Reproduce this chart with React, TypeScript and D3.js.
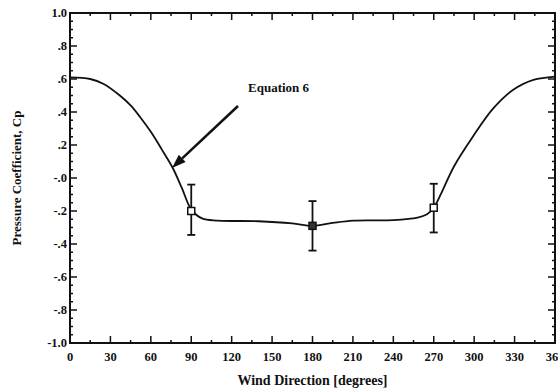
import React from "react";
import * as d3 from "d3";

// fitted curve (Equation 6)
const curveDeg = [0, 15, 25, 37, 45, 52, 60, 68, 76, 83, 90, 98, 110, 140, 165, 180, 195, 210, 240, 258, 265, 270, 276, 285, 299, 314, 329, 344, 360];
const curveCp = [0.61, 0.6, 0.57, 0.5, 0.44, 0.37, 0.28, 0.175, 0.065, -0.06, -0.19, -0.245, -0.258, -0.262, -0.275, -0.29, -0.272, -0.258, -0.255, -0.24, -0.22, -0.18, -0.085, 0.07, 0.25, 0.42, 0.535, 0.595, 0.615];

// measured points with error bars
const pointDeg = [90, 180, 270];
const pointCp = [-0.2, -0.29, -0.18];
const pointHi = [-0.04, -0.14, -0.035];
const pointLo = [-0.345, -0.44, -0.33];

const xTicks = [0, 30, 60, 90, 120, 150, 180, 210, 240, 270, 300, 330, 360];
const yTicks = [1, 0.8, 0.6, 0.4, 0.2, 0, -0.2, -0.4, -0.6, -0.8, -1];
const yTickLabels = ["1.0", ".8", ".6", ".4", ".2", "-.0", "-.2", "-.4", "-.6", "-.8", "-1.0"];

const W = 558;
const H = 391;
const m = { left: 70, right: 3, top: 13, bottom: 48 };
const font = "'Liberation Serif', 'DejaVu Serif', serif";

export default function App() {
  const x = d3.scaleLinear().domain([0, 360]).range([m.left, W - m.right]);
  const y = d3.scaleLinear().domain([-1, 1]).range([H - m.bottom, m.top]);
  const x0 = x(0), x1 = x(360), y0 = y(-1), y1 = y(1);

  const line = d3
    .line<number>()
    .x((d, i) => x(curveDeg[i]))
    .y((d) => y(d))
    .curve(d3.curveCatmullRom.alpha(0.5));

  const xMinor = d3.range(15, 360, 30);
  const yMinor = d3.range(-0.95, 1, 0.05).filter((v) => Math.abs(Math.round(v * 100) % 20) > 1e-6);

  // arrow pointing at the curve
  const ax0 = 238, ay0 = 106, ax1 = 172, ay1 = 168;
  const ang = Math.atan2(ay1 - ay0, ax1 - ax0);
  const hl = 14, hw = 5;
  const bx = ax1 - hl * Math.cos(ang), by = ay1 - hl * Math.sin(ang);
  const head = `M${ax1},${ay1} L${bx + hw * Math.sin(ang)},${by - hw * Math.cos(ang)} L${bx - hw * Math.sin(ang)},${by + hw * Math.cos(ang)} Z`;

  return (
    <svg width={W} height={H} style={{ position: "absolute", left: 0, top: 0, background: "#fff" }}>
      <g stroke="#111" strokeWidth={1.5}>
        {xTicks.map((t) => (
          <g key={"xt" + t}>
            <line x1={x(t)} x2={x(t)} y1={y0} y2={y0 - 7} />
            <line x1={x(t)} x2={x(t)} y1={y1} y2={y1 + 7} />
          </g>
        ))}
        {xMinor.map((t) => (
          <g key={"xm" + t}>
            <line x1={x(t)} x2={x(t)} y1={y0} y2={y0 - 3} />
            <line x1={x(t)} x2={x(t)} y1={y1} y2={y1 + 3} />
          </g>
        ))}
        {yTicks.map((t) => (
          <g key={"yt" + t}>
            <line x1={x0} x2={x0 + 7} y1={y(t)} y2={y(t)} />
            <line x1={x1} x2={x1 - 7} y1={y(t)} y2={y(t)} />
          </g>
        ))}
        {yMinor.map((t) => (
          <g key={"ym" + t.toFixed(2)}>
            <line x1={x0} x2={x0 + 3} y1={y(t)} y2={y(t)} />
            <line x1={x1} x2={x1 - 3} y1={y(t)} y2={y(t)} />
          </g>
        ))}
      </g>
      <rect x={x0} y={y1} width={x1 - x0} height={y0 - y1} fill="none" stroke="#111" strokeWidth={2} />

      <path d={line(curveCp) || ""} fill="none" stroke="#111" strokeWidth={1.8} />

      {pointDeg.map((d, i) => (
        <g key={"p" + d} stroke="#111" strokeWidth={1.8}>
          <line x1={x(d)} x2={x(d)} y1={y(pointHi[i])} y2={y(pointLo[i])} />
          <line x1={x(d) - 4} x2={x(d) + 4} y1={y(pointHi[i])} y2={y(pointHi[i])} />
          <line x1={x(d) - 4} x2={x(d) + 4} y1={y(pointLo[i])} y2={y(pointLo[i])} />
          <rect x={x(d) - 3.5} y={y(pointCp[i]) - 3.5} width={7} height={7} fill={i === 1 ? "#333" : "#fff"} strokeWidth={1.5} />
        </g>
      ))}

      <line x1={ax0} y1={ay0} x2={bx} y2={by} stroke="#111" strokeWidth={2.5} />
      <path d={head} fill="#111" />
      <text x={248} y={92} fontFamily={font} fontWeight="bold" fontSize={13} fill="#111">
        Equation 6
      </text>

      <g fontFamily={font} fontWeight="bold" fontSize={12.5} fill="#111">
        {yTicks.map((t, i) => (
          <text key={"yl" + t} x={x0 - 3} y={y(t) + 4} textAnchor="end">
            {yTickLabels[i]}
          </text>
        ))}
        {xTicks.map((t) => (
          <text key={"xl" + t} x={x(t)} y={y0 + 18} textAnchor="middle">
            {t}
          </text>
        ))}
      </g>
      <text x={(x0 + x1) / 2} y={385} textAnchor="middle" fontFamily={font} fontWeight="bold" fontSize={14} fill="#111">
        Wind Direction [degrees]
      </text>
      <text
        transform={`translate(21,${(y0 + y1) / 2}) rotate(-90)`}
        textAnchor="middle"
        fontFamily={font}
        fontWeight="bold"
        fontSize={13}
        fill="#111"
      >
        Pressure Coefficient, Cp
      </text>
    </svg>
  );
}
